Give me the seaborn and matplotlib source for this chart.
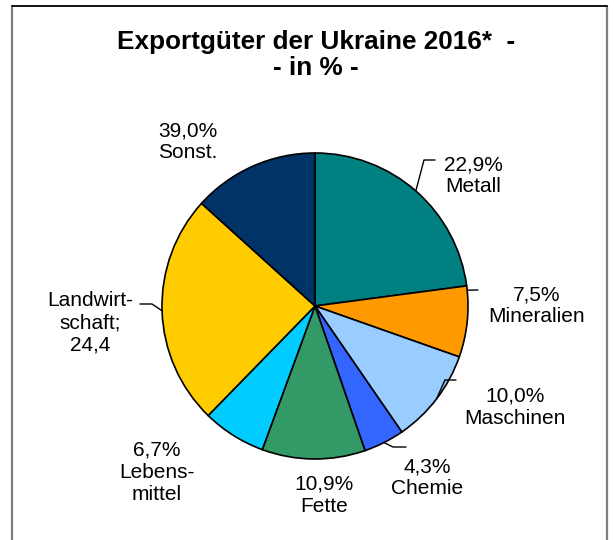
import numpy as np
import matplotlib
matplotlib.use("Agg")
import matplotlib.pyplot as plt
import seaborn as sns

# Daten
categories = ["Metall", "Mineralien", "Maschinen", "Chemie", "Fette",
              "Lebensmittel", "Landwirtschaft", "Sonst."]
# Sektorgroessen wie gezeichnet (Sonst. ist als Rest 13,3 gezeichnet)
slice_shares = [22.9, 7.5, 10.0, 4.3, 10.9, 6.7, 24.4, 13.3]
label_texts = ["22,9%\nMetall", "7,5%\nMineralien", "10,0%\nMaschinen",
               "4,3%\nChemie", "10,9%\nFette", "6,7%\nLebens-\nmittel",
               "Landwirt-\nschaft;\n24,4", "39,0%\nSonst."]
slice_colors = ["#008080", "#FF9900", "#99CCFF", "#3366FF", "#339966",
                "#00CCFF", "#FFCC00", "#003366"]

title_text = "Exportgüter der Ukraine 2016*  -\n- in % -"

sns.set_theme(style="white")
plt.rcParams["font.family"] = ["Liberation Sans", "DejaVu Sans"]
plt.rcParams["text.color"] = "black"

W, H = 614, 540
fig = plt.figure(figsize=(W / 100, H / 100), dpi=100)
ax = fig.add_axes([0, 0, 1, 1])


def px(x, y):
    # Pixel (von oben gemessen) -> Datenkoordinaten
    return x, H - y


center = px(315, 306)
radius = 153

palette = sns.color_palette(slice_colors)
wedges, _ = ax.pie(slice_shares, colors=palette, startangle=90,
                   counterclock=False, center=center, radius=radius,
                   wedgeprops=dict(edgecolor="black", linewidth=1.2))

ax.set_xlim(0, W)
ax.set_ylim(0, H)
ax.set_aspect("equal")
ax.axis("off")

# Beschriftungspositionen (Mitte des Textblocks, Pixel von oben)
label_pos = {
    "Metall": (473, 176),
    "Mineralien": (537, 306),
    "Maschinen": (515, 407),
    "Chemie": (427, 478),
    "Fette": (324, 495),
    "Lebensmittel": (157, 472),
    "Landwirtschaft": (90, 323),
    "Sonst.": (188, 142),
}
# Fuehrungslinien: Anteil innerhalb des Sektors + Knickpunkte
leaders = {
    "Metall": (0.5, [(424, 160), (435, 160)]),
    "Mineralien": (0.94, [(478, 290)]),
    "Maschinen": (0.5, [(445, 380), (456, 380)]),
    "Chemie": (0.5, [(393, 447), (406, 447)]),
    "Landwirtschaft": (0.5, [(152, 304), (140, 304)]),
}

for cat, w, txt in zip(categories, wedges, label_texts):
    x, y = px(*label_pos[cat])
    ax.text(x, y, txt, ha="center", va="center", fontsize=15,
            color="black", linespacing=1.2)
    if cat in leaders:
        frac, pts = leaders[cat]
        ang = np.deg2rad(w.theta1 + frac * (w.theta2 - w.theta1))
        xs = [center[0] + radius * np.cos(ang)]
        ys = [center[1] + radius * np.sin(ang)]
        for p in pts:
            qx, qy = px(*p)
            xs.append(qx)
            ys.append(qy)
        ax.plot(xs, ys, color="black", linewidth=1.0)

tx, ty = px(316, 55)
ax.text(tx, ty, title_text, ha="center", va="center", fontsize=18.8,
        fontweight="bold", color="black", linespacing=1.08)

# Rahmen
ax.plot([12, 12], [H - 6, 0], color="#808080", linewidth=1.6, clip_on=False)
ax.plot([607, 607], [H - 6, 0], color="#808080", linewidth=1.6, clip_on=False)
ax.plot([12, 607], [H - 6, H - 6], color="black", linewidth=1.3, clip_on=False)

fig.savefig("out.png", dpi=100, facecolor="white")
